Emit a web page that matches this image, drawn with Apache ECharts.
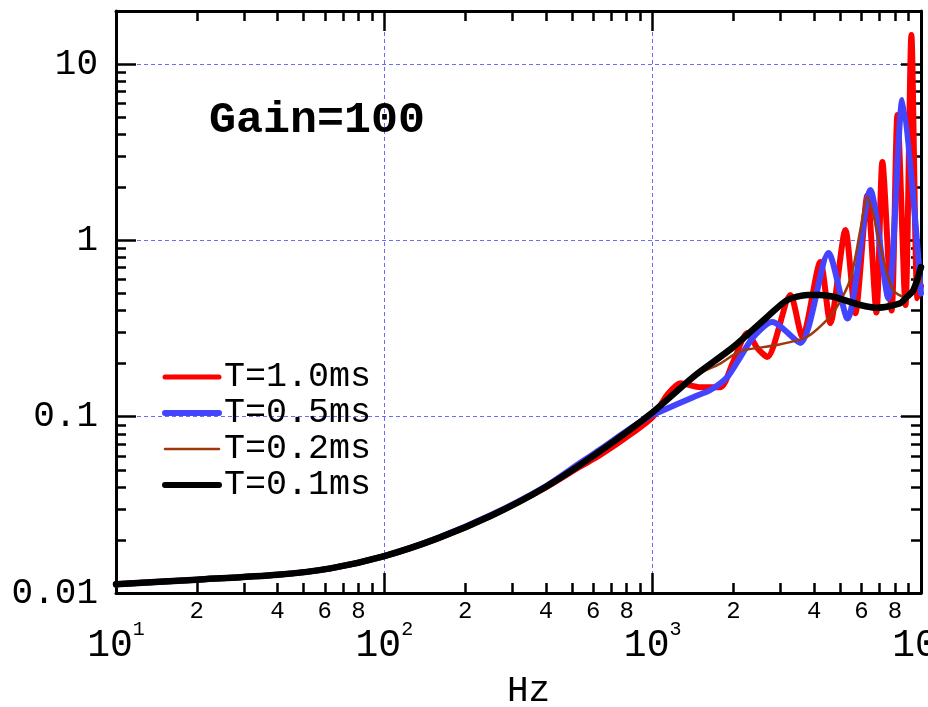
<!DOCTYPE html>
<html>
<head>
<meta charset="utf-8">
<script src="https://cdn.jsdelivr.net/npm/echarts@6.0.0/dist/echarts.min.js"></script>
<style>
html,body{margin:0;padding:0;background:#fff;}
#chart{width:928px;height:707px;}
</style>
</head>
<body>
<div id="chart"></div>
<script>
// ---- Data (frequency in Hz, magnitude) ----
const redF   = [10, 20, 40, 63, 100, 158, 251, 398, 537, 631, 847, 1000, 1133, 1268, 1507, 1786, 1995, 2254, 2455, 2673, 3260, 3614, 4217, 4592, 5228, 5690, 6310, 6820, 7180, 7770, 8170, 8750, 9210, 9700, 10000];
const redV   = [0.0112, 0.0119, 0.0127, 0.0138, 0.0162, 0.0204, 0.0275, 0.0396, 0.0522, 0.0600, 0.0815, 0.0995, 0.133, 0.155, 0.147, 0.147, 0.204, 0.298, 0.245, 0.218, 0.49, 0.283, 0.754, 0.34, 1.145, 0.386, 1.8, 0.39, 2.78, 0.40, 5.14, 0.43, 14.6, 0.47, 0.55];

const blueF  = [10, 20, 40, 63, 100, 158, 251, 398, 537, 631, 800, 1000, 1069, 1416, 1640, 1898, 2122, 2373, 2792, 3548, 4519, 5321, 6477, 7550, 8530, 10000];
const blueV  = [0.0112, 0.0119, 0.0127, 0.0138, 0.0162, 0.0205, 0.0278, 0.0402, 0.0548, 0.0645, 0.0830, 0.103, 0.107, 0.129, 0.1417, 0.168, 0.218, 0.283, 0.344, 0.262, 0.849, 0.36, 1.93, 0.47, 6.25, 0.50];

const brownF = [10, 20, 40, 63, 100, 158, 251, 398, 631, 1000, 1416, 1786, 2120, 2850, 3770, 4710, 5450, 5940, 6310, 6650, 7060, 7500, 7890, 8590, 9370, 10000];
const brownV = [0.0112, 0.0119, 0.0127, 0.0138, 0.0162, 0.0204, 0.0275, 0.0398, 0.0631, 0.106, 0.168, 0.2, 0.235, 0.254, 0.284, 0.39, 0.60, 1.14, 1.76, 1.39, 0.918, 0.637, 0.52, 0.48, 0.52, 0.596];

const blackF = [10, 20, 40, 63, 100, 158, 251, 398, 631, 1000, 1416, 1995, 2672, 3175, 3770, 4200, 4710, 5940, 6870, 8370, 8880, 9370, 10000];
const blackV = [0.0112, 0.0119, 0.0127, 0.0138, 0.0162, 0.0204, 0.0275, 0.0398, 0.0631, 0.106, 0.168, 0.248, 0.368, 0.459, 0.49, 0.49, 0.479, 0.43, 0.415, 0.44, 0.48, 0.523, 0.706];

const seriesNames = ['T=1.0ms', 'T=0.5ms', 'T=0.2ms', 'T=0.1ms'];

// ---- Tick values ----
const xMajor = [10, 100, 1000, 10000];
const xMinorTicks = [20,30,40,50,60,70,80,90, 200,300,400,500,600,700,800,900, 2000,3000,4000,5000,6000,7000,8000,9000];
const xMinorLabels = [20,40,60,80, 200,400,600,800, 2000,4000,6000,8000];
const yMajor = [0.01, 0.1, 1, 10];
const yMajorLabels = ['0.01', '0.1', '1', '10'];
const yMinorTicks = [0.02,0.03,0.04,0.05,0.06,0.07,0.08,0.09, 0.2,0.3,0.4,0.5,0.6,0.7,0.8,0.9, 2,3,4,5,6,7,8,9];

const FONT = '"Liberation Mono", "DejaVu Sans Mono", monospace';
const X_MIN = 10, X_MAX = 10000, Y_MIN = 0.01, Y_MAX = 20;

const colors = ['#ff0000', '#4444ff', '#9c3a0c', '#000000'];
const widths = [6, 6, 2.5, 6.5];
const legendWidths = [5, 6, 2.5, 6];
const seriesData = [[redF, redV], [blueF, blueV], [brownF, brownV], [blackF, blackV]];

function pairs(F, V) { return F.map((f, i) => [f, V[i]]); }

const frameLine = {show: true, lineStyle: {color: '#000', width: 3}};
const noLine = {show: false};
function tick(vals, len) {
  return {show: true, inside: true, length: len, customValues: vals, lineStyle: {color: '#000', width: 2.5}};
}

const xBase = {type: 'log', logBase: 10, min: X_MIN, max: X_MAX, gridIndex: 0};
const yBase = {type: 'log', logBase: 10, min: Y_MIN, max: Y_MAX, gridIndex: 0};

const chart = echarts.init(document.getElementById('chart'), null, {renderer: 'canvas'});
chart.setOption({
  animation: false,
  backgroundColor: '#fff',
  title: {
    text: 'Gain=100', left: 204, top: 93,
    textStyle: {fontFamily: FONT, fontWeight: 'bold', fontSize: 45, color: '#000'}
  },
  legend: {
    orient: 'vertical', left: 157, top: 354, padding: 5,
    itemWidth: 54, itemHeight: 14, itemGap: 0,
    itemStyle: {color: 'rgba(0,0,0,0)', borderColor: 'rgba(0,0,0,0)', borderWidth: 0, opacity: 0},
    textStyle: {fontFamily: FONT, fontSize: 35, color: '#000', lineHeight: 36},
    data: seriesNames.map((n, i) => ({name: n, lineStyle: {width: legendWidths[i], color: colors[i]}}))
  },
  grid: {left: 116, top: 11, width: 805, height: 582, containLabel: false, outerBoundsMode: 'none'},
  xAxis: [
    Object.assign({}, xBase, {
      position: 'bottom',
      axisLine: frameLine,
      axisTick: tick(xMajor, 20),
      axisLabel: {
        show: true, customValues: xMajor, margin: 27,
        formatter: v => '{b|10}{s|' + Math.round(Math.log10(v)) + '}',
        rich: {
          b: {fontFamily: FONT, fontSize: 38, color: '#000', lineHeight: 52},
          s: {fontFamily: FONT, fontSize: 20, color: '#000', verticalAlign: 'top'}
        }
      },
      splitLine: {show: true, lineStyle: {color: '#6a6aff', width: 1, type: [4, 3]}},
      name: 'Hz', nameLocation: 'middle', nameGap: 80,
      nameTextStyle: {fontFamily: FONT, fontSize: 36, color: '#000', padding: [0, 0, 0, 20]}
    }),
    Object.assign({}, xBase, {
      position: 'bottom',
      axisLine: noLine,
      axisTick: tick(xMinorTicks, 10),
      axisLabel: {
        show: true, customValues: xMinorLabels, margin: 7,
        fontFamily: FONT, fontSize: 24, color: '#000',
        formatter: v => String(Math.round(v / Math.pow(10, Math.floor(Math.log10(v) + 1e-9))))
      },
      splitLine: {show: false}
    }),
    Object.assign({}, xBase, {
      position: 'top', axisLine: frameLine, axisTick: tick(xMajor, 20),
      axisLabel: {show: false}, splitLine: {show: false}
    }),
    Object.assign({}, xBase, {
      position: 'top', axisLine: noLine, axisTick: tick(xMinorTicks, 10),
      axisLabel: {show: false}, splitLine: {show: false}
    })
  ],
  yAxis: [
    Object.assign({}, yBase, {
      position: 'left',
      axisLine: frameLine,
      axisTick: tick(yMajor, 20),
      axisLabel: {
        show: true, customValues: yMajor, margin: 18,
        fontFamily: FONT, fontSize: 36, color: '#000',
        formatter: v => yMajorLabels[yMajor.findIndex(m => Math.abs(Math.log10(m) - Math.log10(v)) < 1e-6)] || ''
      },
      splitLine: {show: true, lineStyle: {color: '#6a6aff', width: 1, type: [4, 3]}}
    }),
    Object.assign({}, yBase, {
      position: 'left', axisLine: noLine, axisTick: tick(yMinorTicks, 10),
      axisLabel: {show: false}, splitLine: {show: false}
    }),
    Object.assign({}, yBase, {
      position: 'right', axisLine: frameLine, axisTick: tick(yMajor, 20),
      axisLabel: {show: false}, splitLine: {show: false}
    }),
    Object.assign({}, yBase, {
      position: 'right', axisLine: noLine, axisTick: tick(yMinorTicks, 10),
      axisLabel: {show: false}, splitLine: {show: false}
    })
  ],
  series: seriesNames.map((n, i) => ({
    name: n, type: 'line', xAxisIndex: 0, yAxisIndex: 0,
    data: pairs(seriesData[i][0], seriesData[i][1]),
    symbol: 'none', smooth: 0.25, color: colors[i], clip: true,
    lineStyle: {color: colors[i], width: widths[i], join: 'round', cap: 'round'}
  }))
});
</script>
</body>
</html>
